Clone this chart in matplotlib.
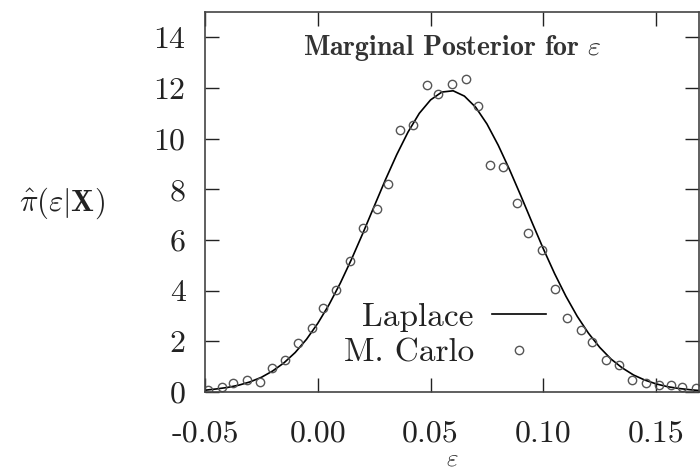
import matplotlib
matplotlib.use("Agg")
import matplotlib.pyplot as plt

plt.rcParams["font.family"] = ["cmr10", "DejaVu Serif"]
plt.rcParams["mathtext.fontset"] = "cm"
plt.rcParams["axes.unicode_minus"] = False

# Laplace approximation curve
lap_x = [-0.050, -0.045, -0.040, -0.035, -0.030, -0.025, -0.020, -0.015, -0.010, -0.005,
         0.000, 0.005, 0.010, 0.015, 0.020, 0.025, 0.030, 0.035, 0.040, 0.045,
         0.050, 0.055, 0.060, 0.065, 0.070, 0.075, 0.080, 0.085, 0.090, 0.095,
         0.100, 0.105, 0.110, 0.115, 0.120, 0.125, 0.130, 0.135, 0.140, 0.145,
         0.150, 0.155, 0.160, 0.165, 0.170]
lap_y = [0.07, 0.12, 0.18, 0.27, 0.40, 0.58, 0.83, 1.15, 1.56, 2.08,
         2.71, 3.45, 4.30, 5.25, 6.27, 7.33, 8.38, 9.37, 10.26, 11.00,
         11.53, 11.84, 11.89, 11.68, 11.24, 10.58, 9.74, 8.78, 7.75, 6.69,
         5.65, 4.67, 3.78, 2.99, 2.32, 1.76, 1.30, 0.95, 0.67, 0.47,
         0.32, 0.21, 0.14, 0.09, 0.05]

# Monte Carlo histogram points
mc_x = [-0.0487, -0.0425, -0.0376, -0.0314, -0.0257, -0.0204, -0.0146, -0.0088, -0.0027, 0.0022,
        0.0080, 0.0142, 0.0199, 0.0261, 0.0310, 0.0363, 0.0420, 0.0482, 0.0535, 0.0597,
        0.0655, 0.0712, 0.0765, 0.0823, 0.0881, 0.0934, 0.0996, 0.1053, 0.1106, 0.1168,
        0.1217, 0.1279, 0.1336, 0.1394, 0.1456, 0.1513, 0.1566, 0.1615, 0.1677]
mc_y = [0.08, 0.20, 0.35, 0.47, 0.39, 0.94, 1.25, 1.92, 2.51, 3.33,
        4.04, 5.18, 6.47, 7.22, 8.20, 10.35, 10.55, 12.12, 11.76, 12.16,
        12.35, 11.29, 8.98, 8.90, 7.45, 6.27, 5.61, 4.08, 2.94, 2.43,
        1.96, 1.25, 1.06, 0.47, 0.35, 0.27, 0.27, 0.20, 0.16]

xticks = [-0.05, 0.00, 0.05, 0.10, 0.15]
xtick_labels = ["-0.05", "0.00", "0.05", "0.10", "0.15"]
yticks = [0, 2, 4, 6, 8, 10, 12, 14]
ytick_labels = ["0", "2", "4", "6", "8", "10", "12", "14"]

fig = plt.figure(figsize=(7, 4.73), dpi=100)
ax = fig.add_axes([205 / 700, 81 / 473, 494 / 700, 380 / 473])

ax.plot(lap_x, lap_y, color="black", lw=1.2, label="Laplace")
ax.plot(mc_x, mc_y, ls="none", marker="o", ms=6, mfc="none", mec="#555555",
        mew=1.0, label="M. Carlo")

ax.set_xlim(-0.05, 0.169)
ax.set_ylim(0, 15)
ax.set_xticks(xticks, xtick_labels)
ax.set_yticks(yticks, ytick_labels)
ax.tick_params(direction="in", length=10, width=1, top=True, right=True,
               labelsize=23, labelcolor="#222222", color="#222222")
ax.tick_params(axis="x", pad=20)
ax.tick_params(axis="y", pad=14)
for s in ax.spines.values():
    s.set_color("#444444")
    s.set_linewidth(1.2)

ax.text(0.5, 0.905, r"Marginal Posterior for $\varepsilon$", transform=ax.transAxes,
        ha="center", va="center", fontsize=20, family="cmb10", color="#333333")

leg = ax.legend(loc="center right", bbox_to_anchor=(0.69, 0.15), frameon=False,
                markerfirst=False, fontsize=24, handlelength=1.62, handletextpad=0.54,
                labelspacing=0.18, borderpad=0, borderaxespad=0)
for t in leg.get_texts():
    t.set_color("#222222")

fig.text(452 / 700, 3 / 473, r"$\varepsilon$", ha="center", va="bottom",
         fontsize=18, color="#222222")
fig.text(62 / 700, 1 - 203 / 473, r"$\hat{\pi}(\varepsilon|\mathbf{X})$",
         ha="center", va="center", fontsize=22, color="#222222")

fig.savefig("out.png", dpi=100)
